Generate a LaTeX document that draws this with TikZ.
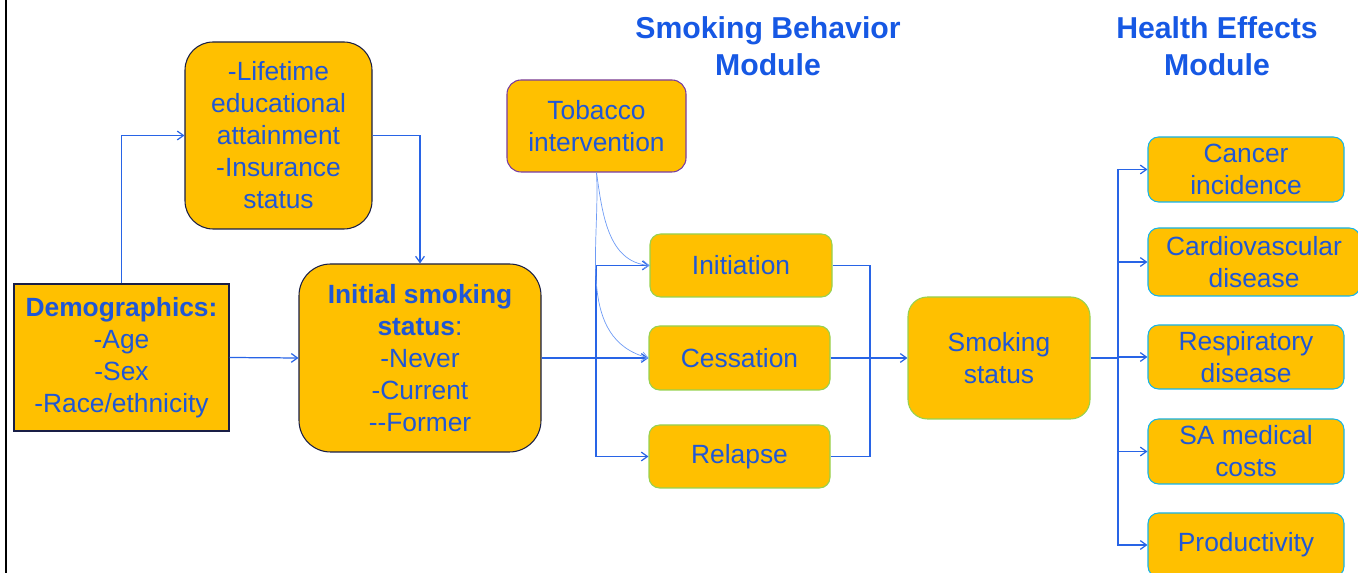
\documentclass[tikz,border=0pt]{standalone}
\usepackage{fontspec}
\setmainfont{Liberation Sans}
\usetikzlibrary{arrows.meta}
\definecolor{boxfill}{RGB}{255,192,0}
\definecolor{txtblue}{RGB}{31,87,214}
\definecolor{ttlblue}{RGB}{22,88,228}
\definecolor{wireblue}{RGB}{40,100,230}
\definecolor{thinblue}{RGB}{110,155,245}
\definecolor{navy}{RGB}{25,30,70}
\definecolor{purp}{RGB}{120,60,160}
\definecolor{grn}{RGB}{150,210,80}
\definecolor{cyn}{RGB}{20,180,235}

\begin{document}
\begin{tikzpicture}[x=0.02cm,y=-0.02cm,
  box/.style 2 args={fill=boxfill, text=txtblue, align=center, inner sep=0pt,
    minimum width=#1*0.02cm, minimum height=#2*0.02cm, line width=0.6pt,
    font=\fontsize{15}{18.2}\selectfont},
  ttl/.style={text=ttlblue, align=center, font=\bfseries\fontsize{17.2}{21.2}\selectfont},
  wire/.style={draw=wireblue, line width=0.7pt},
  tip/.style={wire, -{Straight Barb[length=3.5pt,width=5pt]}},
  thin/.style={draw=thinblue, line width=0.4pt, -{Straight Barb[length=3.5pt,width=5pt]}}]
\useasboundingbox (0,0) rectangle (1358,573);
\draw[line width=1.5pt] (6,0) -- (6,573);

% titles
\node[ttl] (sbm) at (768,46) {Smoking Behavior\\Module};
\node[ttl] (hem) at (1217,46) {Health Effects\\Module};

% left part
\node[box={187}{187}, draw=navy, rounded corners=16pt] (life) at (278.5,135.5)
  {-Lifetime\\educational\\attainment\\-Insurance\\status};
\node[box={215}{147}, draw=navy] (demo) at (121.5,357.5)
  {\textbf{Demographics:}\\-Age\\-Sex\\-Race/ethnicity};
\node[box={242}{188}, draw=navy, rounded corners=18pt] (init) at (420,358)
  {\textbf{Initial smoking}\\\textbf{status}:\\-Never\\-Current\\-{}-Former};

% smoking behavior module
\node[box={179}{92}, draw=purp, rounded corners=8pt] (tob) at (596.5,126) {Tobacco\\intervention};
\node[box={182}{63}, draw=grn, rounded corners=6pt] (inic) at (741,265.5) {Initiation};
\node[box={181}{64}, draw=grn, rounded corners=6pt] (cess) at (739.5,358) {Cessation};
\node[box={181}{63}, draw=grn, rounded corners=6pt] (rel) at (739.5,456.5) {Relapse};
\node[box={182}{122}, draw=grn, rounded corners=11pt] (smk) at (999,358) {Smoking\\status};

% health effects module
\node[box={196}{65}, draw=cyn, rounded corners=6pt] (canc) at (1246,169.5) {Cancer\\incidence};
\node[box={212}{68}, draw=cyn, rounded corners=6pt] (card) at (1254,262) {Cardiovascular\\disease};
\node[box={196}{64}, draw=cyn, rounded corners=6pt] (resp) at (1246,357) {Respiratory\\disease};
\node[box={196}{65}, draw=cyn, rounded corners=6pt] (sa) at (1246,451.5) {SA medical\\costs};
\node[box={196}{64}, draw=cyn, rounded corners=6pt] (prod) at (1246,545) {Productivity};

% connectors
\draw[tip] (demo.north) |- (life.west);
\draw[tip] (life.east) -| (init.north);
\draw[tip] (demo.east) -- (init.west);

\coordinate (j1) at (596,358);
\draw[wire] (init.east) -- (j1);
\draw[tip] (j1) |- (inic.west);
\draw[tip] (j1) -- (cess.west);
\draw[tip] (j1) |- (rel.west);

\coordinate (j2) at (870,358);
\draw[wire] (inic.east) -| (j2);
\draw[wire] (rel.east) -| (j2);
\draw[tip] (cess.east) -- (smk.west);

\coordinate (j3) at (1118,358);
\draw[wire] (smk.east) -- (j3);
\foreach \h in {canc,card,resp,sa,prod}
  \draw[tip] (j3) |- (\h.west);

\draw[thin] (tob.south) to[out=-82,in=175] (inic.west);
\draw[thin] (tob.south) to[out=-87,in=165] (cess.west);
\end{tikzpicture}
\end{document}
